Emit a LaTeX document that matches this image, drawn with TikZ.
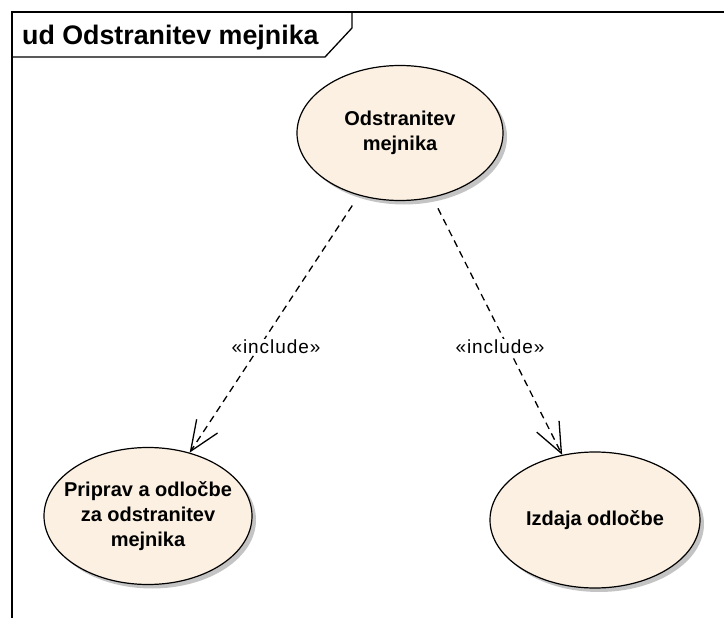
\documentclass[tikz,border=0pt]{standalone}
\usepackage{fontspec}
\setmainfont{Liberation Sans}
\newfontfamily\stereofont[LetterSpace=5]{Liberation Sans}
\usetikzlibrary{shapes.geometric,arrows.meta,shadows}
\definecolor{ucfill}{RGB}{251,240,225}
\definecolor{ucshadow}{RGB}{196,196,196}
\tikzset{
  framepen/.style={draw=black, line width=1.3pt},
  usecase/.style={ellipse, draw=black, line width=1.2pt, fill=ucfill,
    inner sep=0pt,
    drop shadow={shadow xshift=4pt, shadow yshift=-4pt, fill=ucshadow, opacity=1}},
  uctext/.style={align=center, inner sep=0pt,
    font=\fontsize{20}{25}\selectfont\bfseries},
  incl/.style={draw=black, line width=1.3pt, dash pattern=on 7pt off 5pt,
    shorten <=12pt, -{Straight Barb[length=30pt,width=25pt]}},
  stereo/.style={fill=white, inner sep=1pt,
    font=\stereofont\fontsize{19}{22}\selectfont},
}
\begin{document}
\begin{tikzpicture}[x=1pt, y=-1pt]
  \useasboundingbox (0,0) rectangle (724,618);

  % diagram frame and its name tab
  \draw[framepen] (724,12) -- (12,12) -- (12,618);
  \draw[framepen] (12,57) -- (325,57) -- (352,28) -- (352,12);
  \node[anchor=base west, inner sep=0pt,
        font=\fontsize{26.8}{30}\selectfont\bfseries] (title) at (22,45)
        {ud Odstranitev mejnika};

  % use cases
  \node[usecase, minimum width=206pt, minimum height=135pt] (main) at (400,133) {};
  \node[uctext] (main-t) at (main) {Odstranitev\\mejnika};

  \node[usecase, minimum width=208pt, minimum height=137pt] (prep) at (148,516) {};
  \node[uctext] (prep-t) at (prep) {Priprav a odločbe\\za odstranitev\\mejnika};

  \node[usecase, minimum width=210pt, minimum height=136pt] (issue) at (595,520) {};
  \node[uctext] (issue-t) at (issue) {Izdaja odločbe};

  % include relations
  \draw[incl] (main) -- (prep);
  \draw[incl] (main) -- (issue);
  \node[stereo] (inc1) at (276,347) {«include»};
  \node[stereo] (inc2) at (500,347) {«include»};
\end{tikzpicture}
\end{document}
